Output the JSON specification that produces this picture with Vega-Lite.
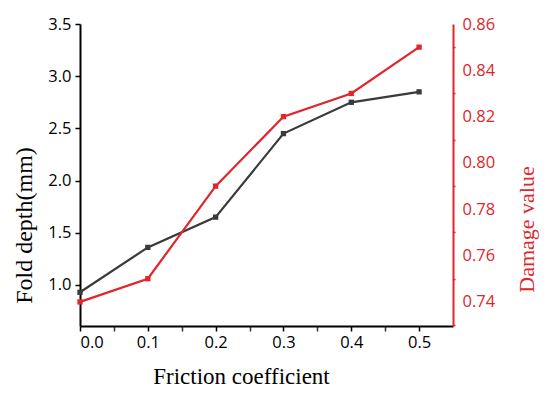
{
  "$schema": "https://vega.github.io/schema/vega-lite/v6.json",
  "width": 373,
  "height": 302,
  "autosize": {"type": "none"},
  "padding": {"left": 80, "top": 24, "right": 97, "bottom": 70},
  "background": "white",
  "config": {"view": {"stroke": null}, "axis": {"grid": false}},
  "data": {"values": [
    {"x": 0.0, "depth": 0.93, "damage": 0.74},
    {"x": 0.1, "depth": 1.36, "damage": 0.75},
    {"x": 0.2, "depth": 1.65, "damage": 0.79},
    {"x": 0.3, "depth": 2.45, "damage": 0.82},
    {"x": 0.4, "depth": 2.75, "damage": 0.83},
    {"x": 0.5, "depth": 2.85, "damage": 0.85}
  ]},
  "encoding": {
    "x": {"field": "x", "type": "quantitative",
      "scale": {"domain": [0, 0.55], "nice": false, "zero": false},
      "axis": {"title": "Friction coefficient",
        "values": [0, 0.05, 0.1, 0.15, 0.2, 0.25, 0.3, 0.35, 0.4, 0.45, 0.5],
        "labelExpr": "round(datum.value*100) % 10 == 0 ? format(datum.value, '.1f') : ''",
        "domainColor": "#000", "domainWidth": 2, "tickColor": "#000", "tickWidth": 1.5, "tickSize": 5,
        "tickOpacity": {"condition": {"test": "round(datum.value*100) % 10 == 0", "value": 1}, "value": 0.8},
        "labelFont": "Open Sans", "labelFontSize": 16.5, "labelColor": "#000", "labelPadding": 3, "labelOverlap": false,
        "titleFont": "Liberation Serif", "titleFontSize": 23, "titleFontWeight": "normal", "titleColor": "#000",
        "titleX": 161, "titleAnchor": "start", "titleAlign": "center", "titlePadding": 15}}
  },
  "layer": [
    {
      "mark": {"type": "line", "color": "#3a3a3a", "strokeWidth": 2.2,
        "point": {"shape": "square", "size": 28, "filled": true, "color": "#3a3a3a"}},
      "encoding": {
        "y": {"field": "depth", "type": "quantitative",
          "scale": {"domain": [0.607, 3.5], "nice": false, "zero": false},
          "axis": {"title": "Fold depth(mm)", "orient": "left", "values": [1.0, 1.5, 2.0, 2.5, 3.0, 3.5], "format": ".1f",
            "domainColor": "#000", "domainWidth": 2, "tickColor": "#000", "tickWidth": 1.5, "tickSize": 5,
            "labelFont": "Open Sans", "labelFontSize": 16.5, "labelColor": "#000", "labelPadding": 4,
            "titleFont": "Liberation Serif", "titleFontSize": 24, "titleFontWeight": "normal", "titleColor": "#000",
            "titlePadding": 11, "titleY": 201}}
      }
    },
    {
      "mark": {"type": "line", "color": "#e0262c", "strokeWidth": 2.2,
        "point": {"shape": "square", "size": 28, "filled": true, "color": "#e0262c"}},
      "encoding": {
        "y": {"field": "damage", "type": "quantitative",
          "scale": {"domain": [0.7296, 0.86], "nice": false, "zero": false},
          "axis": {"title": "Damage value", "orient": "right",
            "values": [0.73, 0.74, 0.75, 0.76, 0.77, 0.78, 0.79, 0.8, 0.81, 0.82, 0.83, 0.84, 0.85, 0.86],
            "labelExpr": "round(datum.value*100) % 2 == 0 ? format(datum.value, '.2f') : ''",
            "tickOpacity": {"condition": {"test": "round(datum.value*100) % 2 == 1", "value": 1}, "value": 0},
            "domainColor": "#e0262c", "domainWidth": 2, "tickColor": "#e0262c", "tickWidth": 1.5, "tickSize": 2,
            "labelFont": "Open Sans", "labelFontSize": 16.5, "labelColor": "#e0262c", "labelPadding": 7, "labelOverlap": false,
            "titleFont": "Liberation Serif", "titleFontSize": 22, "titleFontWeight": "normal", "titleColor": "#e0262c",
            "titleAngle": 270, "titlePadding": 44, "titleY": 205}}
      }
    }
  ],
  "resolve": {"scale": {"y": "independent"}}
}
